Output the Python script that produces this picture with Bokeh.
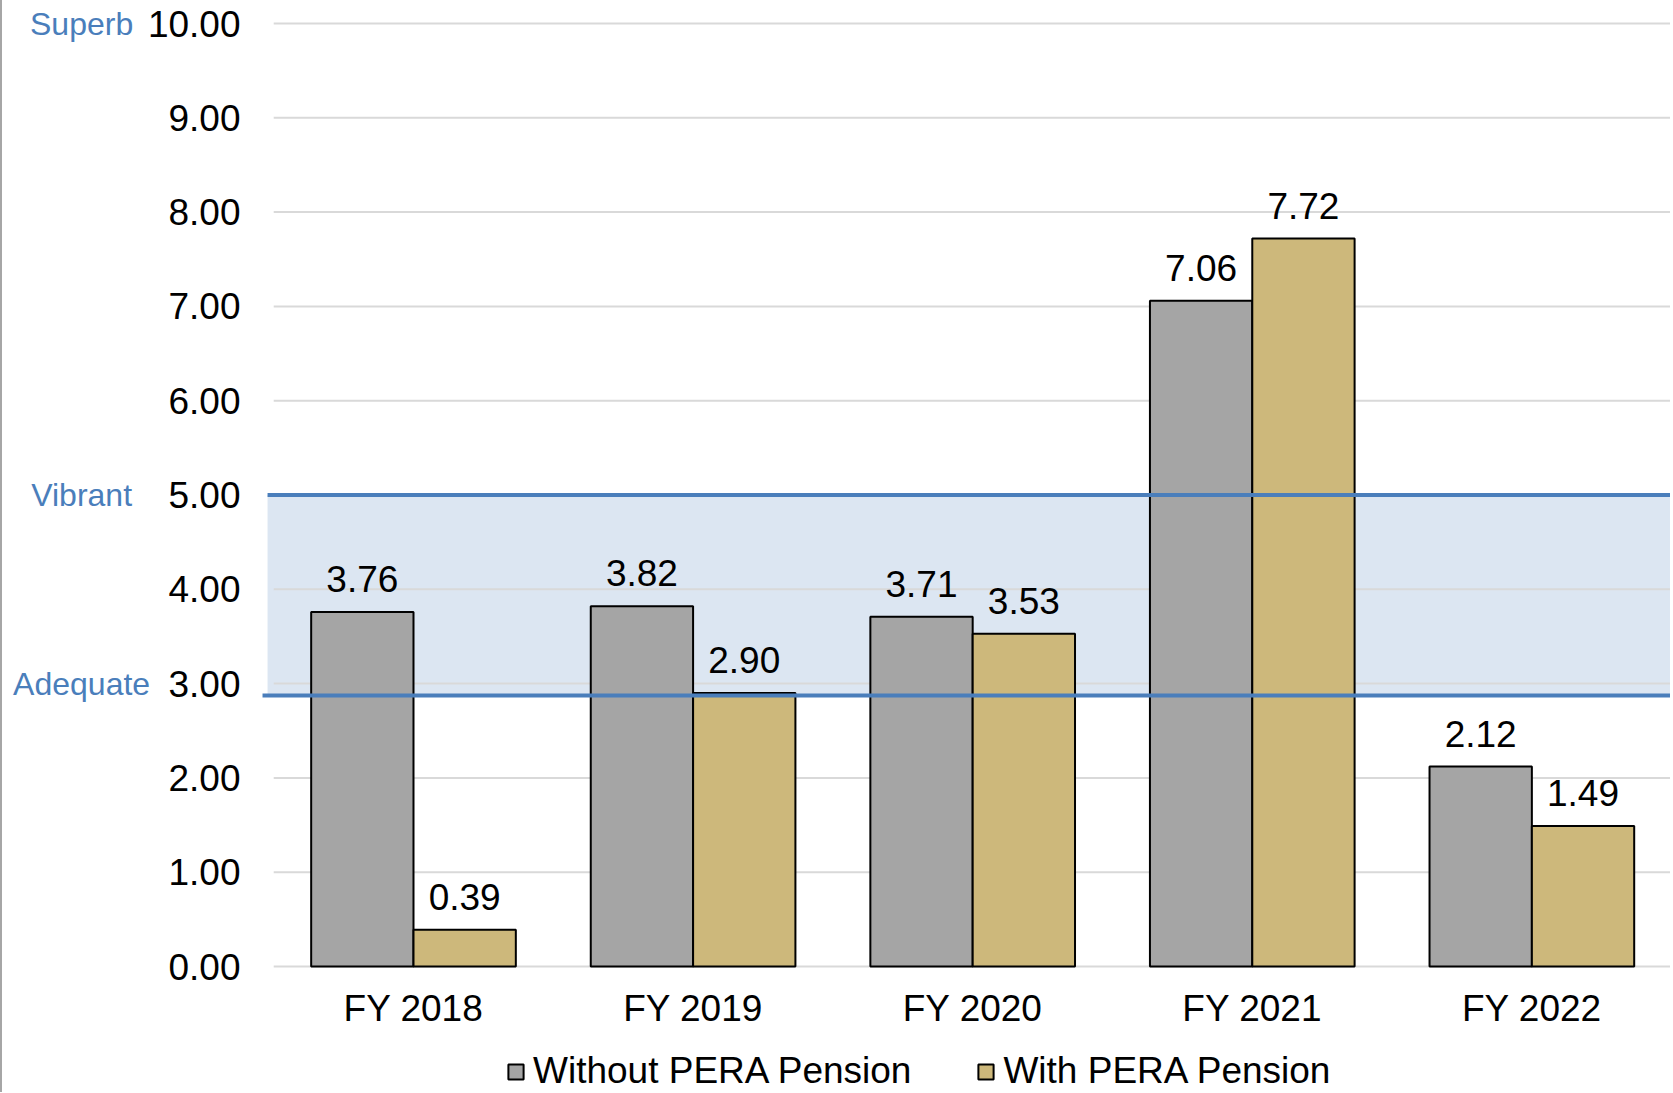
import numpy as np
from bokeh.plotting import figure
from bokeh.models import (Range1d, FixedTicker, NumeralTickFormatter, LabelSet,
                          ColumnDataSource, Legend, LegendItem)
from bokeh.core.properties import value
from bokeh.embed import file_html
from bokeh.resources import INLINE

categories = ["FY 2018", "FY 2019", "FY 2020", "FY 2021", "FY 2022"]
without_pera = [3.76, 3.82, 3.71, 7.06, 2.12]
with_pera = [0.39, 2.90, 3.53, 7.72, 1.49]
y_ticks = [0, 1, 2, 3, 4, 5, 6, 7, 8, 9, 10]
band_low, band_high = 2.874, 5.0
zone_labels = ["Superb", "Vibrant", "Adequate"]
zone_values = [10, 5, 3]

FONT = "Liberation Sans"
GRAY = "#a5a5a5"
TAN = "#cdb87b"
BLUE = "#4a7ebb"

p = figure(width=1670, height=1092, output_backend="svg", toolbar_location=None,
           x_range=Range1d(-1.470, 4.503), y_range=Range1d(-1.336, 10.244),
           min_border=0)
p.outline_line_color = None
p.xgrid.grid_line_color = None
p.ygrid.grid_line_color = None
p.styles = {"border-left": "2px solid #a6a6a6"}

xs = np.arange(len(categories))
bw = 0.366

# band
p.quad(left=-0.522, right=4.495, bottom=band_low, top=band_high,
       fill_color="#dce6f2", line_color=None)
# gridlines
p.segment(x0=[-0.5] * len(y_ticks), x1=[4.6] * len(y_ticks), y0=y_ticks, y1=y_ticks,
          line_color="#d9d9d9", line_width=2)

r1 = p.vbar(x=xs - bw / 2, top=without_pera, width=bw, fill_color=GRAY,
            line_color="black", line_width=2)
r2 = p.vbar(x=xs + bw / 2, top=with_pera, width=bw, fill_color=TAN,
            line_color="black", line_width=2)

# band lines
p.segment(x0=[-0.522, -0.540], x1=[4.495, 4.6], y0=[band_high, band_low],
          y1=[band_high, band_low], line_color=BLUE, line_width=4)

# data labels
src = ColumnDataSource(dict(
    x=list(xs - bw / 2) + list(xs + bw / 2),
    y=without_pera + with_pera,
    t=["%.2f" % v for v in without_pera + with_pera]))
p.add_layout(LabelSet(x="x", y="y", text="t", source=src, text_align="center",
                      text_baseline="alphabetic", y_offset=20,
                      text_font=value(FONT), text_font_size="37px",
                      text_color="black"))

# zone labels
p.text(x=[-1.187] * len(zone_labels), y=zone_values, text=zone_labels,
       text_align="center", text_baseline="middle", text_font=value(FONT),
       text_font_size="32px", text_color=BLUE)

# axes
p.yaxis.fixed_location = -0.540
p.yaxis.ticker = FixedTicker(ticks=y_ticks)
p.yaxis.formatter = NumeralTickFormatter(format="0.00")
p.yaxis.axis_line_color = None
p.yaxis.major_tick_line_color = None
p.yaxis.minor_tick_line_color = None
p.yaxis.major_tick_out = 0
p.yaxis.major_tick_in = 0
p.yaxis.major_label_standoff = 22
p.yaxis.major_label_text_font = FONT
p.yaxis.major_label_text_font_size = "37px"
p.yaxis.major_label_text_color = "black"

p.xaxis.fixed_location = 0
p.xaxis.ticker = FixedTicker(ticks=list(xs))
p.xaxis.major_label_overrides = {int(i): c for i, c in zip(xs, categories)}
p.xaxis.axis_line_color = None
p.xaxis.major_tick_line_color = None
p.xaxis.minor_tick_line_color = None
p.xaxis.major_tick_out = 0
p.xaxis.major_tick_in = 0
p.xaxis.major_label_standoff = 21
p.xaxis.major_label_text_font = FONT
p.xaxis.major_label_text_font_size = "37px"
p.xaxis.major_label_text_color = "black"

legend = Legend(items=[LegendItem(label="Without PERA Pension", renderers=[r1]),
                       LegendItem(label="With PERA Pension", renderers=[r2])],
                orientation="horizontal", location=(504, 0),
                glyph_width=19, glyph_height=19, label_standoff=8, spacing=65,
                padding=0, margin=0, border_line_color=None,
                background_fill_alpha=0, label_text_font=FONT,
                label_text_font_size="37px", label_text_color="black")
p.add_layout(legend)

open("out.html", "w").write(file_html(p, INLINE))
